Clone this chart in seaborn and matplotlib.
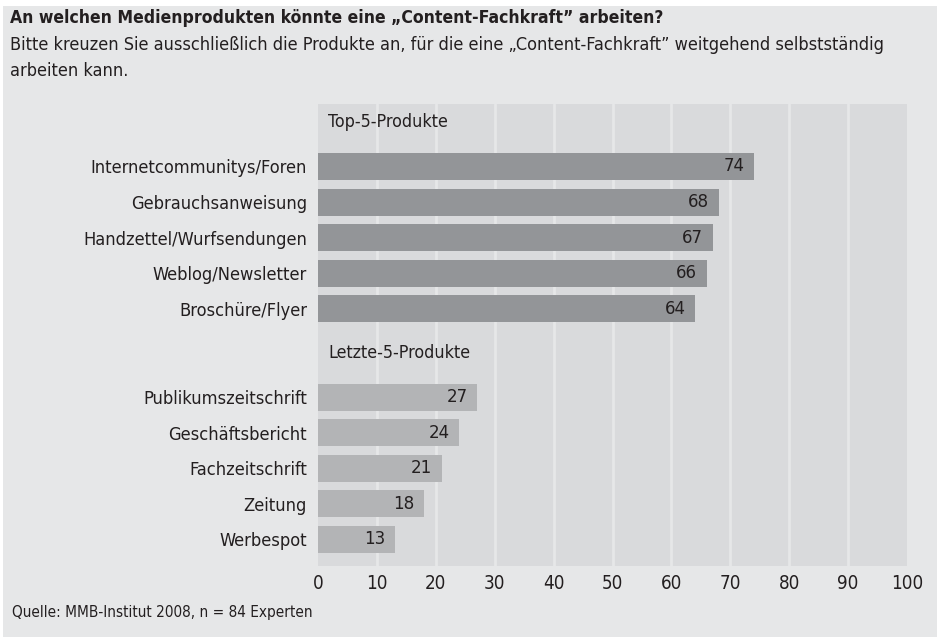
import matplotlib
matplotlib.use("Agg")
import matplotlib.pyplot as plt
import seaborn as sns
import pandas as pd

# ── Data ──────────────────────────────────────────
top_labels = ["Internetcommunitys/Foren", "Gebrauchsanweisung", "Handzettel/Wurfsendungen",
              "Weblog/Newsletter", "Broschüre/Flyer"]
top_values = [74, 68, 67, 66, 64]
low_labels = ["Publikumszeitschrift", "Geschäftsbericht", "Fachzeitschrift", "Zeitung", "Werbespot"]
low_values = [27, 24, 21, 18, 13]
group_names = ["Top-5-Produkte", "Letzte-5-Produkte"]
x_ticks = [0, 10, 20, 30, 40, 50, 60, 70, 80, 90, 100]

title = "An welchen Medienprodukten könnte eine „Content-Fachkraft” arbeiten?"
subtitle = ("Bitte kreuzen Sie ausschließlich die Produkte an, für die eine „Content-Fachkraft” weitgehend selbstständig\n"
            "arbeiten kann.")
source = "Quelle: MMB-Institut 2008, n = 84 Experten"

# row layout: second group starts after a gap for its heading
gap = 1.5
pos = [i for i in range(len(top_labels))] + [len(top_labels) + gap + i for i in range(len(low_labels))]

df = pd.DataFrame({
    "label": top_labels + low_labels,
    "value": top_values + low_values,
    "group": [group_names[0]] * 5 + [group_names[1]] * 5,
    "pos": pos,
})

# ── Style ─────────────────────────────────────────
sns.set_style("white")
plt.rcParams['font.family'] = ['DejaVu Sans']
plt.rcParams['font.stretch'] = 'condensed'
fig_bg = "#e6e7e8"
ax_bg = "#d9dadc"
palette = {group_names[0]: "#939598", group_names[1]: "#b3b4b6"}
txt = "#231f20"
fs = 12.8

fig = plt.figure(figsize=(9.4, 6.37), dpi=100, facecolor="white")
fig.patches.append(plt.Rectangle((3 / 940, 0), 934 / 940, 631 / 637, transform=fig.transFigure,
                                 facecolor=fig_bg, edgecolor="none", zorder=-10))
ax = fig.add_axes([318 / 940, 1 - 566 / 637, (907 - 318) / 940, (566 - 104) / 637])
ax.set_facecolor(ax_bg)

sns.barplot(data=df, x="value", y="pos", hue="group", orient="h", native_scale=True,
            palette=palette, dodge=False, width=0.76, saturation=1, legend=False,
            linewidth=0, ax=ax)

ax.set_xlim(0, 100)
ax.set_ylim(11.25, -1.76)
ax.set_xticks(x_ticks)
ax.set_xticklabels([str(t) for t in x_ticks], fontsize=fs + 0.7, color=txt)
ax.set_yticks(df["pos"])
ax.set_yticklabels(df["label"], fontsize=fs + 0.3, color=txt)
ax.tick_params(axis="x", length=0, pad=6)
ax.tick_params(axis="y", length=0, pad=8)
for t in x_ticks[1:-1]:
    ax.axvline(t, color=fig_bg, lw=2, zorder=0.5)
ax.set_axisbelow(True)
for s in ax.spines.values():
    s.set_visible(False)
ax.set_xlabel("")
ax.set_ylabel("")

# value labels inside bars
for p, val in zip(df["pos"], df["value"]):
    ax.text(val - 1.6, p, str(val), ha="right", va="center", fontsize=fs + 0.5, color=txt)

# group headings
ax.text(1.7, -1.25, group_names[0], ha="left", va="center", fontsize=fs, color=txt)
ax.text(1.7, len(top_labels) + 0.25, group_names[1], ha="left", va="center", fontsize=fs, color=txt)

fig.text(10 / 940, 1 - 18 / 637, title, ha="left", va="center", fontsize=12.6,
         fontweight="bold", color=txt)
fig.text(10 / 940, 1 - 58 / 637, subtitle, ha="left", va="center", fontsize=13,
         color=txt, linespacing=1.5)
fig.text(12 / 940, 1 - 612 / 637, source, ha="left", va="center", fontsize=11, color=txt)

fig.savefig("out.png", dpi=100, facecolor="white")
